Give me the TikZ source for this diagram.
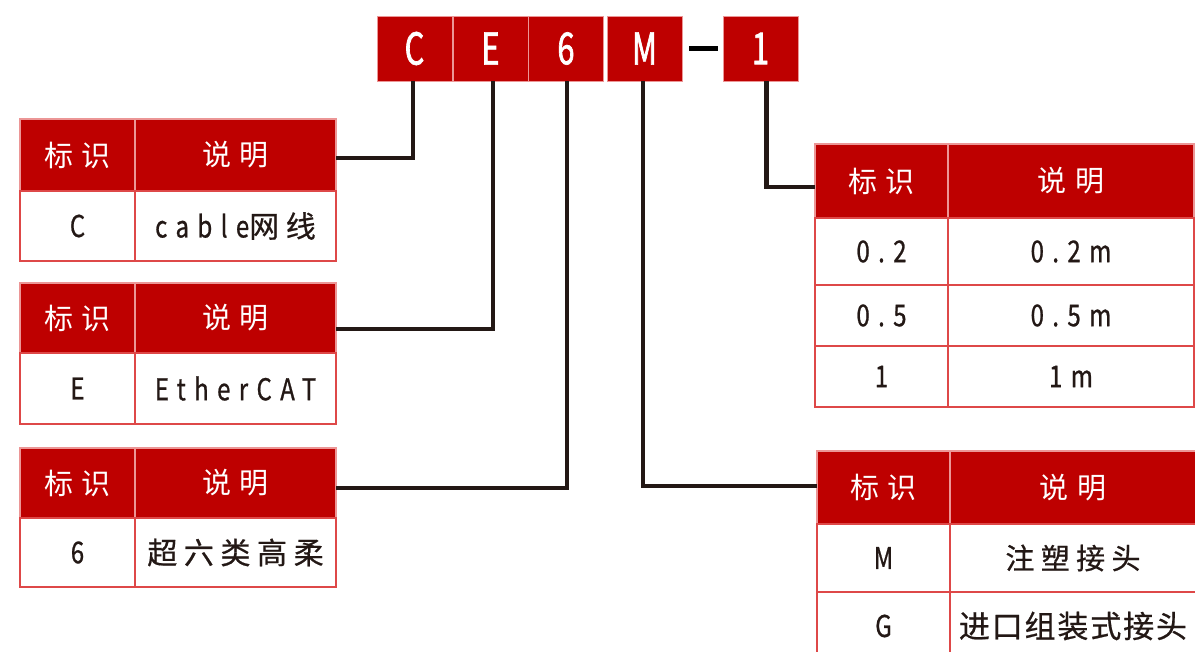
\documentclass[tikz,border=0pt]{standalone}
\usepackage{fontspec}
\setmainfont{Noto Sans CJK SC}
\newfontfamily\hdfont[LetterSpace=30]{Noto Sans CJK SC}
\newfontfamily\bodyfont[LetterSpace=22,FakeBold=0.6]{Noto Sans CJK SC}
\newfontfamily\longfont[LetterSpace=6,FakeBold=0.6]{Noto Sans CJK SC}
\newfontfamily\latfont[FakeStretch=0.8,LetterSpace=28,FakeBold=0.8]{Noto Sans CJK SC}
\newfontfamily\bigfont[FakeStretch=0.7,FakeBold=1.5]{Noto Sans CJK SC}
\definecolor{brand}{RGB}{190,0,0}
\definecolor{ink}{RGB}{35,24,21}
\definecolor{hdline}{RGB}{236,150,150}
\definecolor{cellline}{RGB}{222,72,72}
\tikzset{
  codebox/.style={draw=hdline,line width=0.8pt,fill=brand,text=white,
    minimum width=75,minimum height=65,inner sep=0pt,
    font=\bigfont\fontsize{44}{46}\selectfont},
  head/.style={draw=hdline,line width=1.2pt,fill=brand,text=white,anchor=north west,
    inner sep=0pt,outer sep=0pt,font=\hdfont\fontsize{29}{32}\selectfont},
  cell/.style={draw=cellline,line width=1.5pt,fill=white,text=ink,anchor=north west,
    inner sep=0pt,outer sep=0pt,font=\bodyfont\fontsize{30}{32}\selectfont},
  lkey/.style={minimum width=115},
  lval/.style={minimum width=201},
  rkey/.style={minimum width=133},
  rval/.style={minimum width=246},
  link/.style={draw=ink,line width=4.5pt,line join=miter},
}
\begin{document}
\begin{tikzpicture}[x=1pt,y=-1pt]
  \useasboundingbox (0,0) rectangle (1195,652);
  % model code
  \node[codebox] (boxC) at (414.5,48.5) {C};
  \node[codebox] (boxE) at (490.5,48.5) {E};
  \node[codebox] (box6) at (566,48.5) {6};
  \node[codebox] (boxM) at (644.5,48.5) {M};
  \node[codebox] (box1) at (760.5,48.5) {1};
  \draw[draw=black,line width=5pt] ([xshift=7]boxM.east) -- ([xshift=-5]box1.west);

  % left tables
  \node[head,lkey,minimum height=72] (t1a) at (20,119) {标识};
  \node[head,lval,minimum height=72] (t1b) at (t1a.north east) {说明};
  \node[cell,lkey,minimum height=70] (t1c) at (t1a.south west) {{\latfont C}};
  \node[cell,lval,minimum height=70] (t1d) at (t1c.north east) {{\latfont cable}网线};

  \node[head,lkey,minimum height=70] (t2a) at (20,283) {标识};
  \node[head,lval,minimum height=70] (t2b) at (t2a.north east) {说明};
  \node[cell,lkey,minimum height=71] (t2c) at (t2a.south west) {{\latfont E}};
  \node[cell,lval,minimum height=71] (t2d) at (t2c.north east) {{\latfont EtherCAT}};

  \node[head,lkey,minimum height=70] (t3a) at (20,448) {标识};
  \node[head,lval,minimum height=70] (t3b) at (t3a.north east) {说明};
  \node[cell,lkey,minimum height=69] (t3c) at (t3a.south west) {{\latfont 6}};
  \node[cell,lval,minimum height=69] (t3d) at (t3c.north east) {超六类高柔};

  % right tables
  \node[head,rkey,minimum height=74] (r1a) at (815,144) {标识};
  \node[head,rval,minimum height=74] (r1b) at (r1a.north east) {说明};
  \node[cell,rkey,minimum height=67] (r1c) at (r1a.south west) {{\latfont 0.2}};
  \node[cell,rval,minimum height=67] (r1d) at (r1c.north east) {{\latfont 0.2m}};
  \node[cell,rkey,minimum height=61] (r1e) at (r1c.south west) {{\latfont 0.5}};
  \node[cell,rval,minimum height=61] (r1f) at (r1e.north east) {{\latfont 0.5m}};
  \node[cell,rkey,minimum height=61] (r1g) at (r1e.south west) {{\latfont 1}};
  \node[cell,rval,minimum height=61] (r1h) at (r1g.north east) {{\latfont 1m}};

  \node[head,rkey,minimum height=73] (r2a) at (817,451) {标识};
  \node[head,rval,minimum height=73] (r2b) at (r2a.north east) {说明};
  \node[cell,rkey,minimum height=68] (r2c) at (r2a.south west) {{\latfont M}};
  \node[cell,rval,minimum height=68,font=\bodyfont\fontsize{29}{32}\selectfont] (r2d) at (r2c.north east) {注塑接头};
  \node[cell,rkey,minimum height=68] (r2e) at (r2c.south west) {{\latfont G}};
  \node[cell,rval,minimum height=68,font=\longfont\fontsize{31}{33}\selectfont] (r2f) at (r2e.north east) {进口组装式接头};

  % connectors
  \draw[link] ([xshift=-1.5]boxC.south) |- ([yshift=-3]t1b.east);
  \draw[link] ([xshift=2.5]boxE.south) |- ([yshift=-11]t2b.east);
  \draw[link] ([xshift=1]box6.south) |- ([yshift=-5]t3b.east);
  \draw[link] ([xshift=-1.5]boxM.south) |- ([yshift=1.5]r2a.west);
  \draw[link] ([xshift=6]box1.south) |- ([yshift=-6]r1a.west);
\end{tikzpicture}
\end{document}
